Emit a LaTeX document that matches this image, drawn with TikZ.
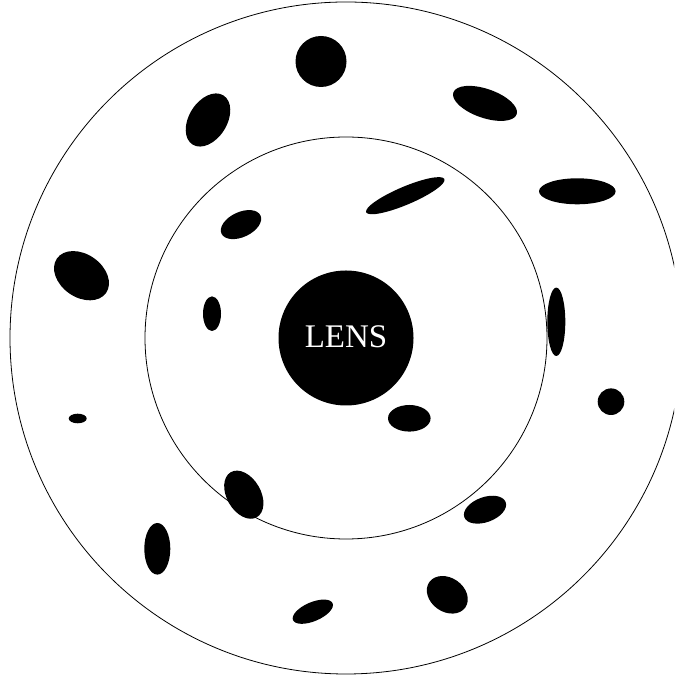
\documentclass[tikz,border=0pt]{standalone}
\usepackage{fontspec}
\setmainfont{Liberation Serif}
\usetikzlibrary{positioning}

\begin{document}
\begin{tikzpicture}[
    x=1pt, y=1pt,
    ring/.style={draw=black, line width=0.8pt},
    blob/.style={fill=black},
    lensnode/.style={circle, fill=black, text=white, minimum size=135pt, inner sep=0pt,
        font=\fontsize{33}{33}\selectfont}
]
\useasboundingbox (0,0) rectangle (674,676);
\clip (0,0) rectangle (674,676);

% Rings
\draw[ring] (346,338) circle [radius=336];
\draw[ring] (346,338) circle [radius=201];

% Lens
\node[lensnode] (lens) at (346,338) {\raisebox{2.5pt}{LENS}};

% Particles (x/y/x radius/y radius/angle)
\foreach \cx/\cy/\rx/\ry/\ang in {
    321/614.5/25.5/25.5/0,
    208/556/29/19/58,
    485/572.6/33.5/14.5/-19,
    405.3/480.3/42.5/9/23,
    577.3/484.7/38.3/13/0,
    241/451.4/21.5/12.5/25,
    81.5/400.3/30/21.5/-35,
    212/362.3/9/17.3/0,
    77.7/257.5/9/4.8/0,
    556.3/354.2/9/34.2/0,
    611/274.3/13.3/13.3/0,
    409.3/257.7/21.3/13.3/0,
    243.8/181.3/26/17/-60,
    485/166.3/22/12.5/20,
    157.3/127.2/13/25.8/0,
    312.8/64.3/21.5/9.5/23,
    447.3/81.2/22/17/-35} {
    \fill[blob, rotate around={\ang:(\cx,\cy)}] (\cx,\cy) ellipse [x radius=\rx, y radius=\ry];
}

\end{tikzpicture}
\end{document}
